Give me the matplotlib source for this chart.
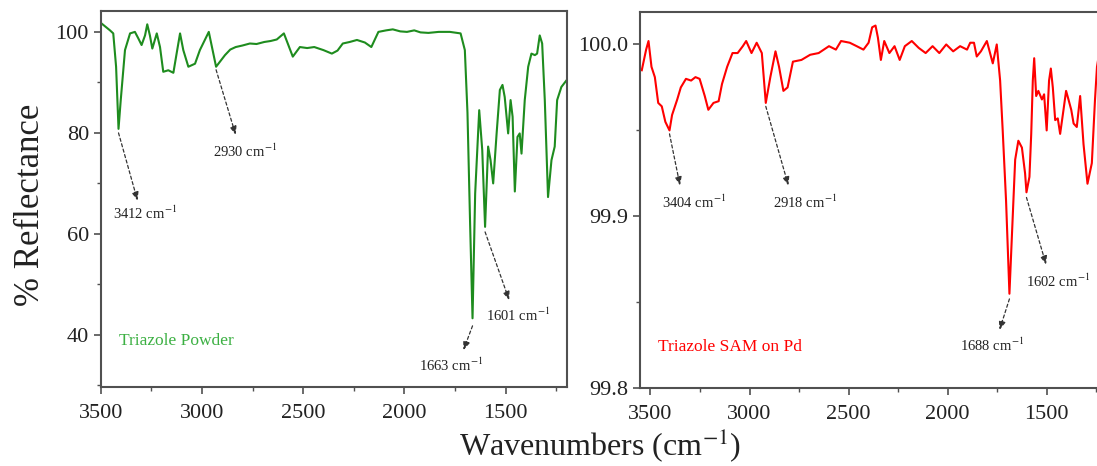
import matplotlib
matplotlib.use("Agg")
import matplotlib.pyplot as plt
from matplotlib.ticker import MultipleLocator, FormatStrFormatter

plt.rcParams['font.family'] = ['Liberation Serif', 'DejaVu Serif']
plt.rcParams['mathtext.fontset'] = 'stix'

# Triazole powder spectrum (wavenumber, % reflectance)
powder_wn = [3500, 3454, 3438, 3424, 3412, 3401, 3380, 3355, 3331, 3314, 3298, 3281,
             3270, 3257, 3245, 3223, 3207, 3191, 3166, 3141, 3125, 3108, 3092, 3067,
             3034, 3010, 2966, 2930, 2886, 2860, 2833, 2800, 2763, 2730, 2692, 2660,
             2630, 2595, 2551, 2516, 2480, 2445, 2400, 2358, 2330, 2304, 2270, 2234,
             2195, 2163, 2128, 2090, 2057, 2020, 1987, 1951, 1920, 1881, 1830, 1775,
             1722, 1701, 1688, 1675, 1663, 1650, 1630, 1615, 1601, 1586, 1574, 1561,
             1544, 1528, 1515, 1504, 1487, 1475, 1465, 1454, 1441, 1430, 1421, 1405,
             1388, 1372, 1355, 1344, 1331, 1319, 1306, 1290, 1273, 1257, 1245, 1224,
             1195]
powder_r = [101.8, 100.3, 99.7, 93.1, 80.8, 86.5, 96.4, 99.7, 100.0, 98.7, 97.4, 99.3,
            101.5, 99.3, 96.7, 99.7, 97.0, 92.1, 92.4, 91.9, 95.7, 99.7, 96.4, 93.1,
            93.7, 96.4, 100.0, 93.1, 95.4, 96.5, 97.0, 97.3, 97.7, 97.6, 98.0, 98.2,
            98.5, 99.7, 95.1, 97.0, 96.8, 97.0, 96.4, 95.7, 96.3, 97.7, 98.0, 98.4,
            97.9, 97.0, 100.0, 100.3, 100.5, 100.1, 100.0, 100.3, 99.9, 99.8, 100.0, 100.0,
            99.7, 96.4, 84.0, 62.0, 43.3, 68.0, 84.5, 76.6, 61.4, 77.3, 74.6, 70.0,
            79.9, 88.5, 89.5, 87.1, 79.9, 86.5, 83.2, 68.4, 79.2, 79.9, 75.9, 86.5,
            93.1, 95.7, 95.4, 95.7, 99.3, 97.7, 86.5, 67.3, 74.6, 77.3, 86.5, 89.1,
            90.6]

# Triazole SAM on Pd spectrum
sam_wn = [3544, 3522, 3510, 3495, 3478, 3461, 3443, 3425, 3404, 3391, 3365, 3347,
          3321, 3295, 3273, 3252, 3226, 3208, 3182, 3156, 3139, 3113, 3086, 3060,
          3034, 3017, 2990, 2964, 2938, 2918, 2895, 2869, 2851, 2829, 2808, 2781,
          2738, 2694, 2651, 2599, 2564, 2538, 2494, 2459, 2425, 2399, 2381, 2364,
          2352, 2337, 2320, 2294, 2268, 2242, 2216, 2181, 2146, 2111, 2076, 2042,
          2007, 1972, 1937, 1902, 1886, 1867, 1853, 1832, 1802, 1772, 1752, 1735,
          1722, 1705, 1688, 1668, 1659, 1643, 1625, 1609, 1602, 1587, 1578, 1570,
          1563, 1553, 1542, 1524, 1513, 1500, 1488, 1479, 1469, 1457, 1444, 1432,
          1415, 1402, 1390, 1376, 1364, 1348, 1331, 1314, 1294, 1272, 1256, 1246,
          1235]
sam_r = [99.985, 99.997, 100.002, 99.987, 99.981, 99.966, 99.964, 99.955, 99.950, 99.959, 99.968, 99.975,
         99.980, 99.979, 99.981, 99.980, 99.970, 99.962, 99.966, 99.967, 99.977, 99.987, 99.995, 99.995,
         99.999, 100.002, 99.995, 100.001, 99.995, 99.966, 99.981, 99.996, 99.987, 99.973, 99.975, 99.990,
         99.991, 99.994, 99.995, 99.999, 99.997, 100.002, 100.001, 99.999, 99.997, 100.001, 100.010, 100.011,
         100.004, 99.991, 100.002, 99.995, 99.999, 99.991, 99.999, 100.002, 99.998, 99.995, 99.999, 99.995,
         100.000, 99.996, 99.999, 99.997, 100.001, 100.001, 99.993, 99.996, 100.002, 99.989, 100.000, 99.979,
         99.950, 99.909, 99.855, 99.909, 99.933, 99.944, 99.940, 99.925, 99.914, 99.923, 99.948, 99.979,
         99.992, 99.970, 99.973, 99.968, 99.971, 99.950, 99.979, 99.986, 99.975, 99.956, 99.957, 99.948,
         99.962, 99.973, 99.968, 99.962, 99.954, 99.952, 99.970, 99.942, 99.919, 99.931, 99.968, 99.987,
         99.995]

# peak labels: (peak wavenumber, value at arrow tail, arrow head, text position)
powder_peaks = [(3412, 80.0, (3318, 66.6), (3280, 64.0)),
                (2930, 92.5, (2833, 79.6), (2787, 76.3)),
                (1663, 41.8, (1708, 37.0), (1768, 34.0)),
                (1601, 60.4, (1482, 46.9), (1440, 43.9))]
sam_peaks = [(3404, 99.948, (3351, 99.918), (3280, 99.908)),
             (2918, 99.964, (2804, 99.918), (2720, 99.908)),
             (1688, 99.852, (1738, 99.834), (1777, 99.825)),
             (1602, 99.911, (1503, 99.872), (1445, 99.862))]

GREEN = '#1e8c1e'
RED = '#ff0000'
SPINE = '#505050'

fig = plt.figure(figsize=(10.97, 4.66), dpi=100)
ax1 = fig.add_axes([0.0918, 0.1685, 0.4253, 0.8086])
ax2 = fig.add_axes([0.5834, 0.1667, 0.4193, 0.8080])


def style_axes(ax):
    for s in ax.spines.values():
        s.set_color(SPINE)
        s.set_linewidth(1.5)
    ax.xaxis.set_major_locator(MultipleLocator(500))
    ax.xaxis.set_minor_locator(MultipleLocator(250))
    ax.tick_params(which='major', direction='out', length=5, width=1.2,
                   color=SPINE, labelsize=16, labelcolor='#222222')
    ax.tick_params(which='minor', direction='out', length=3, width=1.0, color=SPINE)
    ax.tick_params(axis='x', pad=7)


def label_peaks(ax, peaks):
    for wn, tail_y, head, txt in peaks:
        ax.annotate('', xy=head, xytext=(wn, tail_y),
                    arrowprops=dict(arrowstyle='-|>,head_length=0.5,head_width=0.2',
                                    linestyle=(0, (2.5, 2)), lw=0.9, color='#333333',
                                    shrinkA=0, shrinkB=0))
        ax.text(txt[0], txt[1], f'{wn} cm$^{{-1}}$', fontsize=10.5,
                ha='center', va='center', color='#222222')


ax1.plot(powder_wn, powder_r, color=GREEN, lw=1.5)
ax1.set_xlim(3500, 1195)
ax1.set_ylim(29.6, 104.2)
ax1.yaxis.set_major_locator(MultipleLocator(20))
ax1.yaxis.set_minor_locator(MultipleLocator(10))
style_axes(ax1)
label_peaks(ax1, powder_peaks)
ax1.text(3410, 38.8, 'Triazole Powder', color='#3cb043', fontsize=12.5,
         ha='left', va='center')

ax2.plot(sam_wn, sam_r, color=RED, lw=1.5)
ax2.set_xlim(3553, 1231)
ax2.set_ylim(99.8, 100.019)
ax2.yaxis.set_major_locator(MultipleLocator(0.1))
ax2.yaxis.set_minor_locator(MultipleLocator(0.05))
ax2.yaxis.set_major_formatter(FormatStrFormatter('%.1f'))
style_axes(ax2)
label_peaks(ax2, sam_peaks)
ax2.text(3461, 99.824, 'Triazole SAM on Pd', color=RED, fontsize=12.5,
         ha='left', va='center')

fig.text(0.028, 0.56, '% Reflectance', rotation=90, fontsize=25,
         ha='center', va='center', color='#222222')
fig.text(0.547, 0.045, 'Wavenumbers (cm$^{-1}$)', fontsize=23,
         ha='center', va='center', color='#222222')

fig.savefig('out.png', dpi=100)
